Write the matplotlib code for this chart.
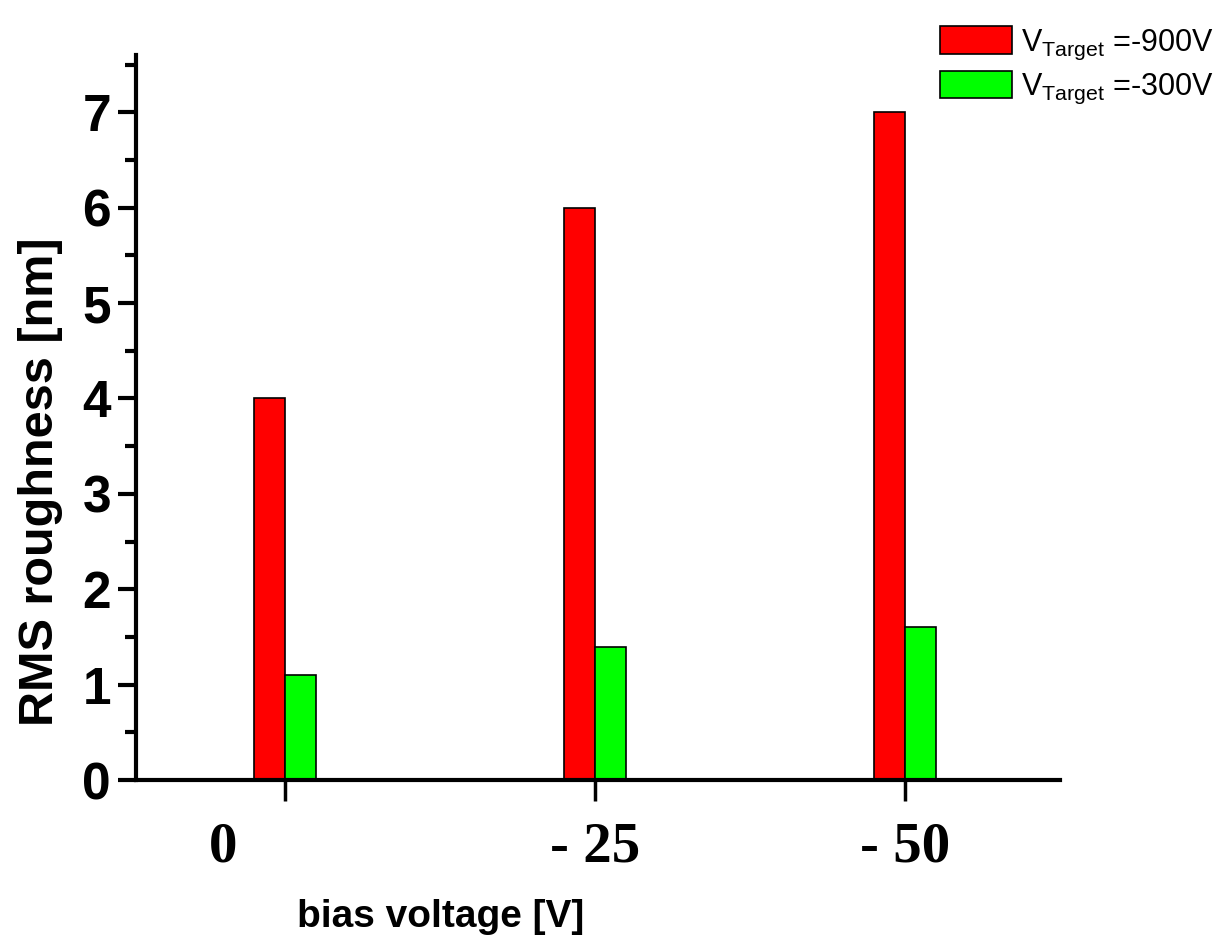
import numpy as np
import matplotlib
matplotlib.use('Agg')
import matplotlib.pyplot as plt
import matplotlib.transforms as mtransforms
from matplotlib.ticker import MultipleLocator

categories = ['0', '- 25', '- 50']
rms_900 = [4.0, 6.0, 7.0]
rms_300 = [1.1, 1.4, 1.6]
labels = [r'V$_{\mathregular{Target}}$ =-900V', r'V$_{\mathregular{Target}}$ =-300V']

plt.rcParams['font.family'] = ['Liberation Sans', 'DejaVu Sans']

fig = plt.figure(figsize=(12.29, 9.49), dpi=100)
ax = fig.add_axes([0.1107, 0.178, 0.752, 0.764])

x = np.arange(len(categories))
w = 0.1
b1 = ax.bar(x, rms_900, width=-w, align='edge', color='#ff0000', edgecolor='black', linewidth=1.2)
b2 = ax.bar(x, rms_300, width=w, align='edge', color='#00ff00', edgecolor='black', linewidth=1.2)

ax.set_xlim(-0.48, 2.5)
ax.set_ylim(0, 7.6)
ax.set_xticks(x)
ax.set_xticklabels(categories, fontfamily='Liberation Serif', fontweight='bold', fontsize=41)
ax.yaxis.set_major_locator(MultipleLocator(1))
ax.yaxis.set_minor_locator(MultipleLocator(0.5))
ax.tick_params(axis='y', which='major', length=13, width=3, labelsize=37, pad=5)
ax.tick_params(axis='y', which='minor', length=8, width=3)
ax.tick_params(axis='x', which='major', length=15, width=2.5, pad=15)
for t in ax.get_yticklabels():
    t.set_fontweight('bold')

# first label sits left of its tick in the original
lab0 = ax.get_xticklabels()[0]
lab0.set_transform(lab0.get_transform() + mtransforms.ScaledTranslation(-0.62, 0, fig.dpi_scale_trans))

for s in ['top', 'right']:
    ax.spines[s].set_visible(False)
ax.spines['left'].set_linewidth(3)
ax.spines['bottom'].set_linewidth(3)

ax.set_ylabel('RMS roughness [nm]', fontsize=35, fontweight='bold', va='center')
ax.yaxis.set_label_coords(-0.103, 0.411)
ax.set_xlabel('bias voltage [V]', fontsize=28, fontweight='bold', va='center')
ax.xaxis.set_label_coords(0.33, -0.189)

fig.legend([b1, b2], labels, loc='upper left', bbox_to_anchor=(0.7552, 0.985),
           frameon=False, fontsize=22, handlelength=2.35, handleheight=1.0,
           handletextpad=0.3, labelspacing=0.3, borderaxespad=0)

fig.savefig('out.png', dpi=100, facecolor='white')
